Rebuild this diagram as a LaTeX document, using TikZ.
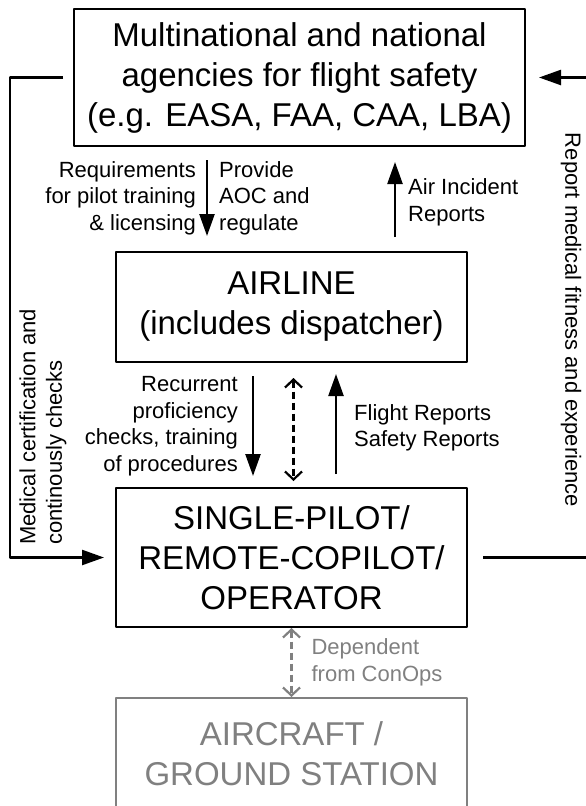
\documentclass[tikz,border=0pt]{standalone}
\usepackage{fontspec}
\setmainfont{Liberation Sans}
\usetikzlibrary{arrows.meta}
\definecolor{dimgray}{HTML}{808080}
\begin{document}
\begin{tikzpicture}[x=1pt,y=-1pt,line join=round,
  box/.style={draw,line width=2pt,minimum width=351pt,align=center,inner sep=0pt,font=\fontsize{33}{40}\selectfont},
  lbl/.style={inner sep=0pt,font=\fontsize{22}{26.5}\selectfont},
  arr/.style={line width=2.4pt,-{Triangle[width=15pt,length=22pt]}},
  darr/.style={line width=2.2pt,dash pattern=on 7pt off 4pt,{Straight Barb[width=17pt,length=8pt]}-{Straight Barb[width=17pt,length=8pt]}}]
  \useasboundingbox (0,0) rectangle (586,806);
  % boxes
  \node[box,minimum width=451pt,minimum height=137pt] (agency) at (299.5,77.5)
    {Multinational and national\\agencies for flight safety\\(e.g. EASA, FAA, CAA, LBA)};
  \node[box,minimum height=110pt] (airline) at (291.5,307) {AIRLINE\\(includes dispatcher)};
  \node[box,minimum height=139pt] (pilot) at (291.5,557.5) {SINGLE-PILOT/\\REMOTE-COPILOT/\\OPERATOR};
  \node[box,draw=dimgray,text=dimgray,minimum height=112pt] (aircraft) at (291.5,754) {AIRCRAFT /\\GROUND STATION};
  % agency <-> airline
  \draw[arr] ([xshift=-92.5pt,yshift=-13pt]agency.south) -- node[lbl,left=10pt,align=right]{Requirements\\for pilot training\\\& licensing}
    node[lbl,right=11pt,align=left]{Provide\\AOC and\\regulate} ([xshift=-84.5pt,yshift=15pt]airline.north);
  \draw[arr] ([xshift=103.5pt,yshift=14pt]airline.north) -- node[lbl,right=12pt,align=left,yshift=-3pt]{Air Incident\\Reports} ([xshift=95.5pt,yshift=-15pt]agency.south);
  % airline <-> pilot
  \draw[arr] ([xshift=-38.5pt,yshift=-13pt]airline.south) -- node[lbl,left=14pt,align=right]{Recurrent\\proficiency\\checks, training\\of procedures} ([xshift=-38.5pt,yshift=11pt]pilot.north);
  \draw[darr] ([xshift=2pt,yshift=-15pt]airline.south) -- ([xshift=2pt,yshift=6pt]pilot.north);
  \draw[arr] ([xshift=44.5pt,yshift=13pt]pilot.north) -- node[lbl,right=17pt,align=left,yshift=-4pt]{Flight Reports\\Safety Reports} ([xshift=44.5pt,yshift=-11pt]airline.south);
  % pilot <-> aircraft
  \draw[darr,dimgray] (pilot.south) -- node[lbl,right=19pt,align=left,text=dimgray]{Dependent\\from ConOps} (aircraft.north);
  % outer loops
  \draw[arr] ([xshift=-10pt]agency.west) -- ++(-53,0) |- ([xshift=-11pt]pilot.west);
  \node[lbl,rotate=90,anchor=west,align=left] (medical) at (43,545) {Medical certification and\\continously checks};
  \coordinate (rt) at (600,0);
  \draw[arr] ([xshift=15pt]pilot.east) -- (pilot.east -| rt) -- (agency.east -| rt) -- ([xshift=13pt]agency.east);
  \node[lbl,rotate=-90] (fitness) at (571,320) {Report medical fitness and experience};
\end{tikzpicture}
\end{document}
